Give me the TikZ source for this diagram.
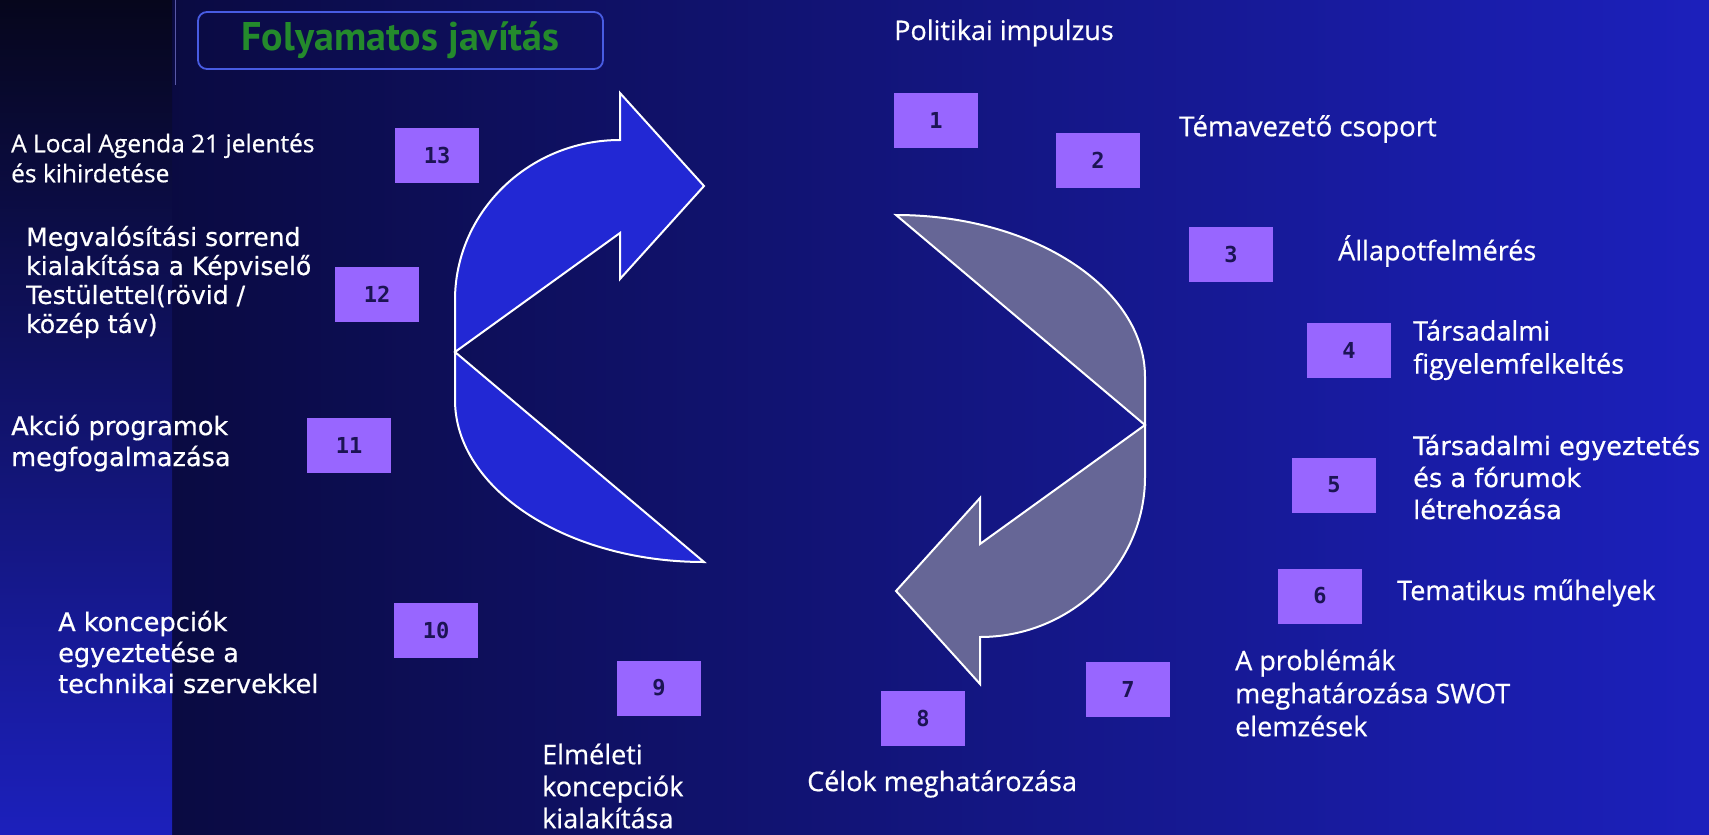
\documentclass[tikz,border=0pt]{standalone}
\usepackage{fontspec}
\setmainfont{DejaVu Sans}[FakeBold=0.6]
\newfontfamily\narrowfont{Open Sans}[FakeBold=0.6]
\newfontfamily\titlefont{PT Sans}
\newfontfamily\numfont{DejaVu Sans Mono}
\definecolor{bgdark}{RGB}{8,8,52}
\definecolor{bgblue}{RGB}{28,32,188}
\definecolor{stripdark}{RGB}{6,6,28}
\definecolor{boxviolet}{RGB}{152,102,255}
\definecolor{numnavy}{RGB}{28,20,84}
\definecolor{arrowblue}{RGB}{34,40,212}
\definecolor{arrowgrey}{RGB}{102,102,150}
\definecolor{titlegreen}{RGB}{36,138,44}
\definecolor{titleblue}{RGB}{72,92,226}
\begin{document}
\begin{tikzpicture}[
x=1pt, y=-1pt,
numbox/.style={fill=boxviolet, minimum width=84pt, minimum height=55pt, inner sep=0pt,
  text=numnavy, font=\numfont\bfseries\fontsize{22}{22}\selectfont},
wide/.style={anchor=west, align=left, inner sep=0pt, text=white,
  font=\fontsize{25.6}{31}\selectfont},
narrow/.style={anchor=west, align=left, inner sep=0pt, text=white,
  font=\narrowfont\fontsize{27}{33}\selectfont},
titlebox/.style={draw=titleblue, line width=1.8pt, rounded corners=9pt,
  minimum width=405pt, minimum height=57pt, text=titlegreen,
  font=\titlefont\bfseries\fontsize{40}{40}\selectfont},
shape line/.style={draw=white, line width=2pt}
]
\useasboundingbox (0,0) rectangle (1709,835);
% background
\shade[left color=bgdark, right color=bgblue] (0,0) rectangle (1709,835);
\shade[top color=stripdark, bottom color=bgblue] (0,0) rectangle (172,835);
\draw[gray!70!blue, line width=1pt] (175,0) -- (175,85);

\node[titlebox] (title) at (400.5,40.5) {Folyamatos javítás};

% the two curved arrows
\draw[shape line, fill=arrowblue] (455,352) -- (620,233) -- (620,279) -- (704,186)
  -- (620,93) -- (620,140) .. controls (529,140) and (455,212) .. (455,300)
  -- (455,400) .. controls (455,489) and (567,562) .. (704,562) -- cycle;
\draw[shape line, fill=arrowgrey] (1145,425) -- (980,544) -- (980,498) -- (896,591)
  -- (980,684) -- (980,637) .. controls (1071,637) and (1145,565) .. (1145,477)
  -- (1145,377) .. controls (1145,288) and (1033,215) .. (896,215) -- cycle;

% numbered steps
\node[numbox] (b1) at (936,120) {1};
\node[numbox] (b2) at (1098,160) {2};
\node[numbox] (b3) at (1231,254) {3};
\node[numbox] (b4) at (1349,350) {4};
\node[numbox] (b5) at (1334,485) {5};
\node[numbox] (b6) at (1320,596) {6};
\node[numbox] (b7) at (1128,689) {7};
\node[numbox] (b8) at (923,718) {8};
\node[numbox] (b9) at (659,688) {9};
\node[numbox] (b10) at (436,630) {10};
\node[numbox] (b11) at (349,445) {11};
\node[numbox] (b12) at (377,294) {12};
\node[numbox] (b13) at (437,155) {13};

% step texts
\node[narrow] (l1) at (894,33) {Politikai impulzus};
\node[narrow, font=\narrowfont\fontsize{27.5}{33}\selectfont] (l2) at (1179,129) {Témavezető csoport};
\node[narrow] (l3) at (1338,251) {Állapotfelmérés};
\node[narrow] (l4) at (1413,350) {Társadalmi\\figyelemfelkeltés};
\node[wide, font=\fontsize{25.6}{32}\selectfont] (l5) at (1413,477) {Társadalmi egyeztetés\\és a fórumok\\létrehozása};
\node[narrow] (l6) at (1397,593) {Tematikus műhelyek};
\node[narrow] (l7) at (1235,693) {A problémák\\meghatározása SWOT\\elemzések};
\node[narrow] (l8) at (807,784) {Célok meghatározása};
\node[narrow, font=\narrowfont\fontsize{27}{32}\selectfont] (l9) at (542,786) {Elméleti\\koncepciók\\kialakítása};
\node[wide] (l10) at (58,652) {A koncepciók\\egyeztetése a\\technikai szervekkel};
\node[wide] (l11) at (11,443) {Akció programok\\megfogalmazása};
\node[wide, font=\fontsize{25.1}{29}\selectfont] (l12) at (26,282) {Megvalósítási sorrend\\kialakítása a Képviselő\\Testülettel(rövid /\\közép táv)};
\node[narrow, font=\narrowfont\fontsize{24.5}{30}\selectfont] (l13) at (11,158) {A Local Agenda 21 jelentés\\és kihirdetése};
\end{tikzpicture}
\end{document}
